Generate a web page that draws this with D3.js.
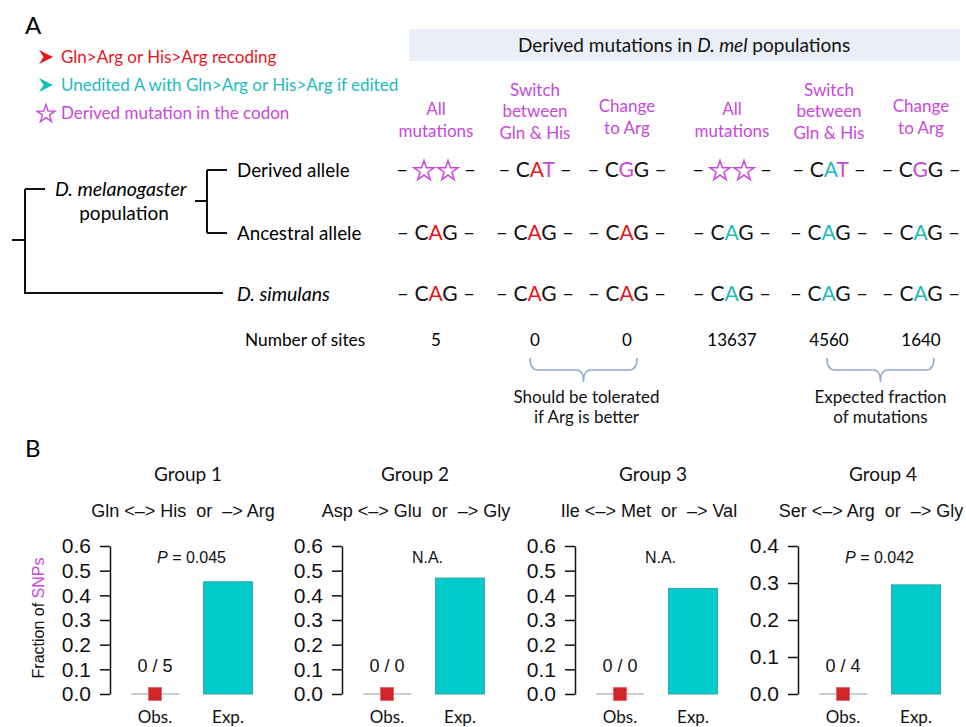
<!DOCTYPE html>
<html><head><meta charset="utf-8">
<script src="https://cdn.jsdelivr.net/npm/d3@7"></script>
<style>body{margin:0;background:#fff} svg{display:block} text{white-space:pre}</style>
</head><body>
<svg id="c" width="966" height="727"></svg>
<script>
// ---------- Panel A data ----------
const legendItems = ["Gln>Arg or His>Arg recoding", "Unedited A with Gln>Arg or His>Arg if edited", "Derived mutation in the codon"];
const legendKinds = ["recoding", "unedited", "derived"];
const boxTitle = ["Derived mutations in ", "D. mel", " populations"];
const columnHeaders = [["All","mutations"],["Switch","between","Gln & His"],["Change","to Arg"],
                       ["All","mutations"],["Switch","between","Gln & His"],["Change","to Arg"]];
const columnGroups = ["recoding","recoding","recoding","unedited","unedited","unedited"];
const derivedCodons = ["**","CAT","CGG","**","CAT","CGG"];
const ancestralCodons = ["CAG","CAG","CAG","CAG","CAG","CAG"];
const simulansCodons = ["CAG","CAG","CAG","CAG","CAG","CAG"];
const siteCounts = [5, 0, 0, 13637, 4560, 1640];
const rowLabels = ["Derived allele", "Ancestral allele", "D. simulans"];
const braceNotes = [["Should be tolerated","if Arg is better"],["Expected fraction","of mutations"]];
const braceSpans = [[1,2],[4,5]];

// ---------- Panel B data ----------
const groupTitles = ["Group 1","Group 2","Group 3","Group 4"];
const groupSubtitles = ["Gln <\u2013> His  or  \u2013> Arg","Asp <\u2013> Glu  or  \u2013> Gly","Ile <\u2013> Met  or  \u2013> Val","Ser <\u2013> Arg  or  \u2013> Gly"];
const barCategories = ["Obs.","Exp."];
const observedFraction = [0, 0, 0, 0];
const expectedFraction = [0.455, 0.470, 0.428, 0.295];
const observedCounts = ["0 / 5","0 / 0","0 / 0","0 / 4"];
const pValues = ["0.045", null, null, "0.042"];
const yMaxima = [0.6, 0.6, 0.6, 0.4];

// ---------- layout / style ----------
const CAL = "Lato, 'Open Sans', sans-serif";
const HEL = "'Liberation Sans', Arial, sans-serif";
const RED = "#e8151c", TEAL = "#1bbcbf", MAG = "#c848d8";
const editColor = {recoding: RED, unedited: TEAL};

const svg = d3.select("#c");
svg.append("rect").attr("width",966).attr("height",727).attr("fill","#fff");

// Panel labels
svg.append("text").attr("x",25).attr("y",26).attr("dy","0.35em").attr("font-family",CAL).attr("font-size",24).text("A");
svg.append("text").attr("x",25).attr("y",449).attr("dy","0.35em").attr("font-family",CAL).attr("font-size",24).text("B");

// Legend
const legY = d3.scalePoint().domain(legendItems).range([57,113]);
const arrowPath = "M0,-7 L14,0 L0,7 L4.5,0 Z";
legendItems.forEach((t,i)=>{
  const y = legY(t), kind = legendKinds[i];
  const col = kind === "derived" ? MAG : editColor[kind];
  if (kind === "derived") {
    svg.append("path").attr("d", d3.symbol(d3.symbolStar, 100)()).attr("transform",`translate(46,${y+1})`)
      .attr("fill","none").attr("stroke",col).attr("stroke-width",1.4);
  } else {
    svg.append("path").attr("d", arrowPath).attr("transform",`translate(39,${y})`).attr("fill",col);
  }
  svg.append("text").attr("x",61).attr("y",y).attr("dy","0.35em").attr("font-family",CAL).attr("font-size",17)
    .attr("fill",col).text(t);
});

// Header box
svg.append("rect").attr("x",409).attr("y",29).attr("width",551).attr("height",32).attr("fill","#eaeff6");
const bt = svg.append("text").attr("x",684).attr("y",45).attr("dy","0.35em").attr("text-anchor","middle")
  .attr("font-family",CAL).attr("font-size",19).attr("fill","#111");
boxTitle.forEach((s,i)=> bt.append("tspan").attr("font-style", i===1 ? "italic" : null).text(s));

// Column positions
const colX = [436, 535, 627, 732, 829, 921];
const headerBottom = [131, 133, 128, 131, 133, 128];
columnHeaders.forEach((lines,i)=>{
  lines.forEach((ln,j)=>{
    svg.append("text").attr("x",colX[i]).attr("y",headerBottom[i] - (lines.length-1-j)*21.5).attr("dy","0.35em")
      .attr("text-anchor","middle").attr("font-family",CAL).attr("font-size",17).attr("fill",MAG).text(ln);
  });
});

// Tree
const rowY = {derived:170, ancestral:233, simulans:294};
const tree = svg.append("g").attr("fill","none").attr("stroke","#111").attr("stroke-width",2);
tree.append("path").attr("d","M12,240 H25 M25,189 V294 M25,189 H45 M25,293 H223");
tree.append("path").attr("d",`M195,201 H207 M207,${rowY.derived} V${rowY.ancestral} M207,${rowY.derived} H227 M207,${rowY.ancestral} H227`);
svg.append("text").attr("x",55).attr("y",189).attr("dy","0.35em").attr("font-family",CAL).attr("font-size",19.5)
  .attr("font-style","italic").text("D. melanogaster");
svg.append("text").attr("x",124).attr("y",213).attr("dy","0.35em").attr("text-anchor","middle").attr("font-family",CAL)
  .attr("font-size",19).text("population");
const rowYs = [rowY.derived, rowY.ancestral, rowY.simulans];
rowLabels.forEach((t,i)=>{
  svg.append("text").attr("x",237).attr("y",rowYs[i]).attr("dy","0.35em").attr("font-family",CAL).attr("font-size",i===2 ? 19.5 : 18.8)
    .attr("font-style", i===2 ? "italic" : null).text(t);
});
svg.append("text").attr("x",245).attr("y",340).attr("dy","0.35em").attr("font-family",CAL).attr("font-size",17.3).text("Number of sites");

// Codons
function drawCodon(codon, i, y) {
  const x = colX[i];
  if (codon === "**") {
    [-34, 34].forEach(dx => svg.append("text").attr("x",x+dx).attr("y",y).attr("dy","0.35em").attr("text-anchor","middle")
      .attr("font-family",CAL).attr("font-size",21).text("\u2013"));
    [-12, 12].forEach(dx => svg.append("path").attr("d", d3.symbol(d3.symbolStar, 125)())
      .attr("transform",`translate(${x+dx},${y+1})`).attr("fill","none").attr("stroke",MAG).attr("stroke-width",1.5));
    return;
  }
  const t = svg.append("text").attr("x",x).attr("y",y).attr("dy","0.35em").attr("text-anchor","middle")
    .attr("font-family",CAL).attr("font-size",21).attr("fill","#111");
  t.append("tspan").text("\u2013 ");
  codon.split("").forEach((ch,k)=>{
    let col = "#111";
    if (ch !== ancestralCodons[i][k]) col = MAG;
    else if (k === 1) col = editColor[columnGroups[i]];
    t.append("tspan").attr("fill",col).text(ch);
  });
  t.append("tspan").text(" \u2013");
}
derivedCodons.forEach((c,i)=>drawCodon(c,i,rowY.derived));
ancestralCodons.forEach((c,i)=>drawCodon(c,i,rowY.ancestral));
simulansCodons.forEach((c,i)=>drawCodon(c,i,rowY.simulans));

// Number of sites
siteCounts.forEach((n,i)=>{
  svg.append("text").attr("x",colX[i]).attr("y",340).attr("dy","0.35em").attr("text-anchor","middle")
    .attr("font-family",CAL).attr("font-size",17).text(n);
});

// Braces
const braceExtent = [[530,637],[827,934]];
braceSpans.forEach((sp,b)=>{
  const [x1,x2] = braceExtent[b], cx = (x1+x2)/2;
  svg.append("path").attr("d",`M${x1},358 Q${x1},370 ${x1+8},370 L${cx-7},370 Q${cx},370 ${cx},382 Q${cx},370 ${cx+7},370 L${x2-8},370 Q${x2},370 ${x2},358`)
    .attr("fill","none").attr("stroke","#8eaad0").attr("stroke-width",1.5);
  braceNotes[b].forEach((ln,j)=>{
    svg.append("text").attr("x",cx+(b===0?3:0)).attr("y",397+j*20.5).attr("dy","0.35em").attr("text-anchor","middle")
      .attr("font-family",CAL).attr("font-size",17).attr("fill","#111").text(ln);
  });
});

// ---------- Panel B ----------
const axisX = [110, 342, 575, 798];
const titleX = [188, 415, 653, 883];
const subX = [183, 416, 649, 871];
groupTitles.forEach((g,i)=>{
  svg.append("text").attr("x",titleX[i]).attr("y",474).attr("dy","0.35em").attr("text-anchor","middle")
    .attr("font-family",CAL).attr("font-size",19).attr("fill","#111").text(g);
  svg.append("text").attr("x",subX[i]).attr("y",511).attr("dy","0.35em").attr("text-anchor","middle")
    .attr("font-family",HEL).attr("font-size",18).attr("fill","#111").text(groupSubtitles[i]);

  const y = d3.scaleLinear().domain([0, yMaxima[i]]).range([694, 546]);
  const x = d3.scalePoint().domain(barCategories).range([axisX[i]+45, axisX[i]+118]);
  const g2 = svg.append("g");
  const ax = g2.append("g").attr("transform",`translate(${axisX[i]},0)`)
    .call(d3.axisLeft(y).tickValues(d3.range(0, yMaxima[i]+1e-9, 0.1)).tickFormat(d3.format(".1f")).tickSize(10).tickSizeOuter(0).tickPadding(9));
  ax.selectAll("path,line").attr("stroke","#111").attr("stroke-width",1.5);
  ax.selectAll("text").attr("font-family",HEL).attr("font-size",21).attr("fill","#111");

  // Expected bar
  g2.append("rect").attr("x",x("Exp.")-24.5).attr("width",49).attr("y",y(expectedFraction[i]))
    .attr("height",y(0)-y(expectedFraction[i])).attr("fill","#00cccc").attr("stroke","#35a5a5").attr("stroke-width",1);
  // Observed
  g2.append("line").attr("x1",x("Obs.")-24).attr("x2",x("Obs.")+24).attr("y1",y(observedFraction[i])).attr("y2",y(observedFraction[i]))
    .attr("stroke","#9a9a9a").attr("stroke-width",1.2);
  g2.append("rect").attr("x",x("Obs.")-6.5).attr("y",y(observedFraction[i])-6.5).attr("width",13).attr("height",13)
    .attr("fill","#d2262a").attr("stroke","#e05050").attr("stroke-width",0.6);
  g2.append("text").attr("x",x("Obs.")).attr("y",666).attr("dy","0.35em").attr("text-anchor","middle")
    .attr("font-family",HEL).attr("font-size",18).attr("fill","#111").text(observedCounts[i]);
  // p-value
  const pt = g2.append("text").attr("x",(x("Obs.")+x("Exp."))/2 + (pValues[i] ? 0 : 4)).attr("y",557).attr("dy","0.35em")
    .attr("text-anchor","middle").attr("font-family",HEL).attr("font-size",16).attr("fill","#111");
  if (pValues[i]) { pt.append("tspan").attr("font-style","italic").text("P"); pt.append("tspan").text(" = " + pValues[i]); }
  else pt.text("N.A.");
  // x labels
  barCategories.forEach(c=>{
    g2.append("text").attr("x",x(c)).attr("y",717).attr("dy","0.35em").attr("text-anchor","middle")
      .attr("font-family",CAL).attr("font-size",17).attr("fill","#111").text(c);
  });
});

// Y title
const yt = svg.append("text").attr("transform","translate(38,618) rotate(-90)").attr("dy","0.35em").attr("text-anchor","middle")
  .attr("font-family",HEL).attr("font-size",16).attr("fill","#111");
yt.append("tspan").text("Fraction of ");
yt.append("tspan").attr("fill",MAG).text("SNPs");
</script>
</body></html>
